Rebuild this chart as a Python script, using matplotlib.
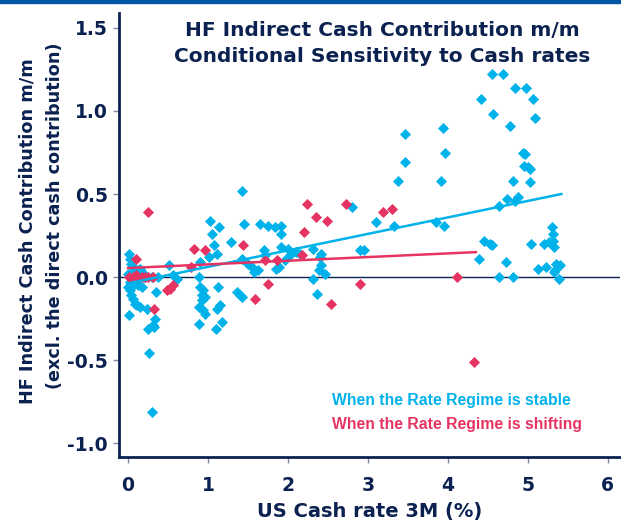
import matplotlib
matplotlib.use("Agg")
import matplotlib.pyplot as plt
import numpy as np

NAVY = "#0b2150"
CYAN = "#00b2ea"
RED = "#e63462"

# regime stable (cyan)
stable_x = [0.01, 0.02, 0.04, 0.06, 0.12, 0.17, 0.15, 0.0, 0.03, 0.08, 0.13, 0.05, 0.10, 0.20,
            0.07, 0.12, 0.03,
            0.0, 0.02, 0.04, 0.06, 0.09, 0.11, 0.15, 0.17, 0.24, 0.35, 0.01, 0.34, 0.33, 0.25,
            0.31, 0.26, 0.30, 0.30, 0.38, 0.51, 0.56, 0.61,
            0.89, 0.90, 1.01, 1.11, 1.08, 1.05, 1.02, 1.14, 1.29,
            0.90, 0.94, 0.92, 0.96, 0.92, 0.89, 0.94, 0.96, 0.89, 1.12, 1.11, 1.15, 1.10, 1.17,
            1.36, 1.40, 1.42,
            1.43, 1.45, 1.43, 1.50, 1.55, 1.57, 1.63,
            1.65, 1.75, 1.84, 1.91, 1.91, 1.70, 1.71, 1.91, 2.00, 2.10, 2.03, 1.85, 1.89, 1.96, 2.15,
            2.31, 2.42, 2.40, 2.41, 2.39, 2.47, 2.31, 2.37,
            2.80, 2.90, 2.95, 3.10, 3.33, 3.38, 3.47, 3.46, 3.85, 3.95, 3.92, 3.96, 3.94,
            4.39, 4.45, 4.53, 4.55, 4.42, 4.55, 4.69, 4.56, 4.64, 4.74, 4.84, 4.88, 4.73, 4.64,
            4.81, 4.78, 4.84, 4.82, 4.98, 5.07, 5.09, 4.94, 4.96, 4.95, 5.00, 5.03, 5.03, 5.04,
            5.13, 5.20, 5.27, 5.30, 5.32, 5.31, 5.33, 5.23, 5.35, 5.40, 5.34, 5.39, 5.33]
stable_y = [0.14, 0.11, 0.08, 0.06, 0.04, 0.03, 0.05, 0.02, 0.01, 0.0, -0.01, -0.02, 0.02, 0.0,
            -0.04, -0.05, -0.03,
            -0.06, -0.08, -0.11, -0.13, -0.16, -0.17, -0.18, -0.06, -0.19, -0.09, -0.23, -0.25,
            -0.30, -0.31, -0.29, -0.46, -0.81, 0.0, 0.0, 0.07, 0.01, -0.01,
            0.0, 0.09, 0.12, 0.14, 0.19, 0.26, 0.34, 0.30, 0.21,
            -0.06, -0.08, -0.11, -0.12, -0.14, -0.18, -0.20, -0.22, -0.28, -0.06, -0.19, -0.17,
            -0.31, -0.27, -0.09, -0.11, -0.12,
            0.52, 0.32, 0.11, 0.08, 0.06, 0.03, 0.04,
            0.32, 0.31, 0.30, 0.31, 0.26, 0.16, 0.13, 0.18, 0.17, 0.15, 0.13, 0.05, 0.06, 0.10, 0.14,
            0.17, 0.14, 0.12, 0.07, 0.04, 0.02, -0.01, -0.10,
            0.42, 0.16, 0.16, 0.33, 0.31, 0.58, 0.69, 0.86, 0.33, 0.31, 0.58, 0.75, 0.90,
            0.11, 0.22, 0.20, 0.19, 1.07, 1.22, 1.22, 0.98, 0.43, 0.47, 0.46, 0.48, 0.09, 0.0,
            0.0, 0.91, 1.14, 0.58, 1.14, 1.07, 0.96, 0.75, 0.74, 0.67, 0.66, 0.65, 0.57, 0.20,
            0.05, 0.20, 0.21, 0.30, 0.26, 0.22, 0.18, 0.06, 0.08, 0.07, 0.04, -0.01, 0.03]

# regime shifting (red)
shift_x = [0.25, 0.10, 0.01, 0.06, 0.10, 0.12, 0.17, 0.21, 0.25, 0.31, 0.33, 0.49, 0.53, 0.56,
           0.79, 0.83, 0.96, 1.44, 1.59, 1.71, 1.75, 1.86, 2.17, 2.20, 2.24, 2.35, 2.49, 2.54,
           2.73, 2.90, 3.19, 3.30, 4.11, 4.33]
shift_y = [0.39, 0.11, 0.0, 0.0, 0.01, 0.0, 0.0, 0.0, 0.0, 0.0, -0.19, -0.08, -0.07, -0.05,
           0.06, 0.17, 0.16, 0.19, -0.13, 0.10, -0.04, 0.10, 0.13, 0.27, 0.44, 0.36, 0.34, -0.16,
           0.44, -0.04, 0.39, 0.41, 0.0, -0.51]

# trend lines (end points)
stable_fit_x = [0.03, 5.42]
stable_fit_y = [-0.035, 0.50]
shift_fit_x = [0.0, 4.35]
shift_fit_y = [0.054, 0.15]

fig = plt.figure(figsize=(6.21, 5.21), dpi=100)
ax = fig.add_axes([0.1916, 0.1228, 0.8064, 0.8522])

# blue strip at the very top
fig.patches.append(plt.Rectangle((0, 1 - 3 / 521), 1, 3 / 521, transform=fig.transFigure,
                                 color="#0055a5", zorder=0))

ax.axhline(0, color=NAVY, lw=1, zorder=1)
ax.scatter(stable_x, stable_y, marker="D", s=32, color=CYAN, linewidths=0, zorder=2)
ax.scatter(shift_x, shift_y, marker="D", s=32, color=RED, linewidths=0, zorder=3)
ax.plot(stable_fit_x, stable_fit_y, color=CYAN, lw=1.8, zorder=4)
ax.plot(shift_fit_x, shift_fit_y, color=RED, lw=1.8, zorder=4)

ax.set_xlim(-0.1125, 6.15)
ax.set_ylim(-1.084, 1.59)
ax.set_xticks(range(0, 7))
ax.set_yticks([-1.0, -0.5, 0.0, 0.5, 1.0, 1.5])
ax.set_yticklabels(["-1.0", "-0.5", "0.0", "0.5", "1.0", "1.5"])

for s in ["top", "right"]:
    ax.spines[s].set_visible(False)
for s in ["left", "bottom"]:
    ax.spines[s].set_color(NAVY)
    ax.spines[s].set_linewidth(2)
ax.tick_params(direction="out", length=4, width=1, color="#7d8aa0", pad=4)
ax.tick_params(axis="x", pad=10)
for lab in ax.get_xticklabels() + ax.get_yticklabels():
    lab.set_fontfamily("DejaVu Sans")
    lab.set_fontweight("bold")
    lab.set_fontsize(13.5)
    lab.set_color(NAVY)

ax.set_xlabel("US Cash rate 3M (%)", fontsize=14, fontweight="bold", color=NAVY, labelpad=5)

fig.text(28 / 621, 1 - 231 / 521, "HF Indirect Cash Contribution m/m", rotation=90,
         ha="center", va="center", fontsize=12.7, fontweight="bold", color=NAVY)
fig.text(55 / 621, 1 - 216 / 521, "(excl. the direct cash contribution)", rotation=90,
         ha="center", va="center", fontsize=12.7, fontweight="bold", color=NAVY)

fig.text(382 / 621, 1 - 30 / 521, "HF Indirect Cash Contribution m/m", ha="center",
         va="center", fontsize=14.5, fontweight="bold", color=NAVY)
fig.text(382 / 621, 1 - 57 / 521, "Conditional Sensitivity to Cash rates", ha="center",
         va="center", fontsize=14.5, fontweight="bold", color=NAVY)

fig.text(332 / 621, 1 - 401 / 521, "When the Rate Regime is stable", ha="left", va="center",
         fontsize=11.3, fontweight="bold", color=CYAN, family="Liberation Sans")
fig.text(332 / 621, 1 - 424 / 521, "When the Rate Regime is shifting", ha="left", va="center",
         fontsize=11.3, fontweight="bold", color=RED, family="Liberation Sans")

fig.savefig("out.png", dpi=100)
